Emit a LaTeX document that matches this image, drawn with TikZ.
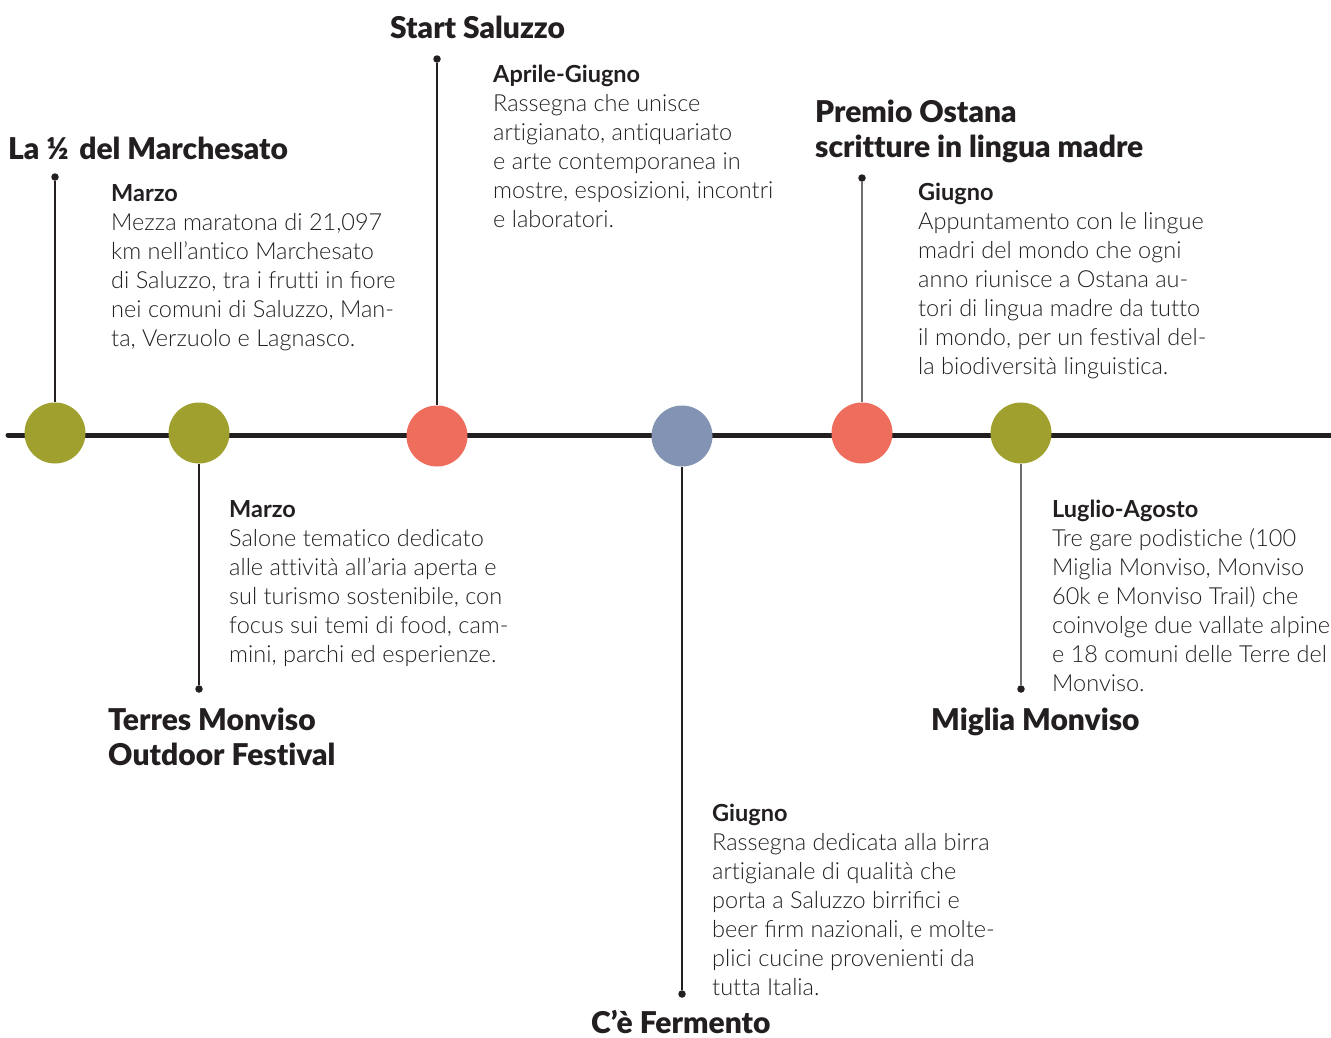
\documentclass[tikz,border=0pt]{standalone}
\usepackage{fontspec}
\setmainfont{Lato}[UprightFont=* Light, BoldFont=* Bold, Ligatures=NoCommon]
\newfontfamily\headfont{Lato}[UprightFont=* Black, Ligatures=NoCommon]
\usetikzlibrary{positioning}

\definecolor{ink}{HTML}{231F20}
\definecolor{olive}{HTML}{A0A02E}
\definecolor{coral}{HTML}{EE6D5D}
\definecolor{slate}{HTML}{8293B4}
\definecolor{stemgray}{HTML}{6E6E6E}

\begin{document}
\begin{tikzpicture}[
    x=1pt, y=-1pt,
    event/.style={circle, fill=#1, minimum size=61pt, inner sep=0pt},
    pinhead/.style={circle, fill=ink, minimum size=7.5pt, inner sep=0pt},
    stem/.style={line width=1.3pt, draw=#1},
    stem/.default=ink,
    % anchors sit on the baseline of the last line
    title/.style={anchor=base west, align=left, inner sep=0pt, text=ink, font=\headfont\fontsize{30}{35}\selectfont},
    blurb/.style={anchor=base west, align=left, inner sep=0pt, text=ink, font=\fontsize{23.5}{29}\selectfont},
]
\useasboundingbox (0,0) rectangle (1331,1037);

% Timeline axis
\coordinate (axis-l) at (8,435);
\coordinate (axis-r) at (1331,435);
\draw[line width=5pt, ink, line cap=round] (axis-l) -- (axis-r);

% Events on the axis
\node[event=olive] (marchesato) at (55,433) {};
\node[event=olive] (terres) at (199,433) {};
\node[event=coral] (saluzzo) at (437,436) {};
\node[event=slate] (fermento) at (682,436) {};
\node[event=coral] (ostana) at (862,433) {};
\node[event=olive] (miglia) at (1021,433) {};

% Pin heads
\node[pinhead] (marchesato-pin) at (55,177) {};
\node[pinhead] (terres-pin) at (199,689) {};
\node[pinhead] (saluzzo-pin) at (437,59) {};
\node[pinhead] (fermento-pin) at (682,994) {};
\node[pinhead] (ostana-pin) at (862,178) {};
\node[pinhead] (miglia-pin) at (1021,689) {};

% Stems
\draw[stem] (marchesato-pin) -- (marchesato);
\draw[stem] (terres-pin) -- (terres);
\draw[stem] (saluzzo-pin) -- (saluzzo);
\draw[stem] (fermento-pin) -- (fermento);
\draw[stem=stemgray] (ostana-pin) -- (ostana);
\draw[stem=stemgray] (miglia-pin) -- (miglia);

% Titles
\node[title] (marchesato-title) at (8,159) {La ½\hspace{0.35em}del Marchesato};
\node[title] (saluzzo-title) at (390,38) {Start Saluzzo};
\node[title] (ostana-title) at (815,157) {Premio Ostana\\scritture in lingua madre};
\node[title] (terres-title) at (108,765) {Terres Monviso\\Outdoor Festival};
\node[title] (fermento-title) at (591,1033) {C’è Fermento};
\node[title] (miglia-title) at (931,730) {Miglia Monviso};

% Descriptions
\node[blurb] (marchesato-text) at (111,346) {\textbf{Marzo}\\
    Mezza maratona di 21,097\\
    km nell’antico Marchesato\\
    di Saluzzo, tra i frutti in ﬁore\\
    nei comuni di Saluzzo, Man-\\
    ta, Verzuolo e Lagnasco.};
\node[blurb] (saluzzo-text) at (493,227) {\textbf{Aprile-Giugno}\\
    Rassegna che unisce\\
    artigianato, antiquariato\\
    e arte contemporanea in\\
    mostre, esposizioni, incontri\\
    e laboratori.};
\node[blurb] (ostana-text) at (918,374) {\textbf{Giugno}\\
    Appuntamento con le lingue\\
    madri del mondo che ogni\\
    anno riunisce a Ostana au-\\
    tori di lingua madre da tutto\\
    il mondo, per un festival del-\\
    la biodiversità linguistica.};
\node[blurb] (terres-text) at (229,662) {\textbf{Marzo}\\
    Salone tematico dedicato\\
    alle attività all’aria aperta e\\
    sul turismo sostenibile, con\\
    focus sui temi di food, cam-\\
    mini, parchi ed esperienze.};
\node[blurb] (fermento-text) at (712,995) {\textbf{Giugno}\\
    Rassegna dedicata alla birra\\
    artigianale di qualità che\\
    porta a Saluzzo birriﬁci e\\
    beer ﬁrm nazionali, e molte-\\
    plici cucine provenienti da\\
    tutta Italia.};
\node[blurb] (miglia-text) at (1052,691) {\textbf{Luglio-Agosto}\\
    Tre gare podistiche (100\\
    Miglia Monviso, Monviso\\
    60k e Monviso Trail) che\\
    coinvolge due vallate alpine\\
    e 18 comuni delle Terre del\\
    Monviso.};
\end{tikzpicture}
\end{document}
